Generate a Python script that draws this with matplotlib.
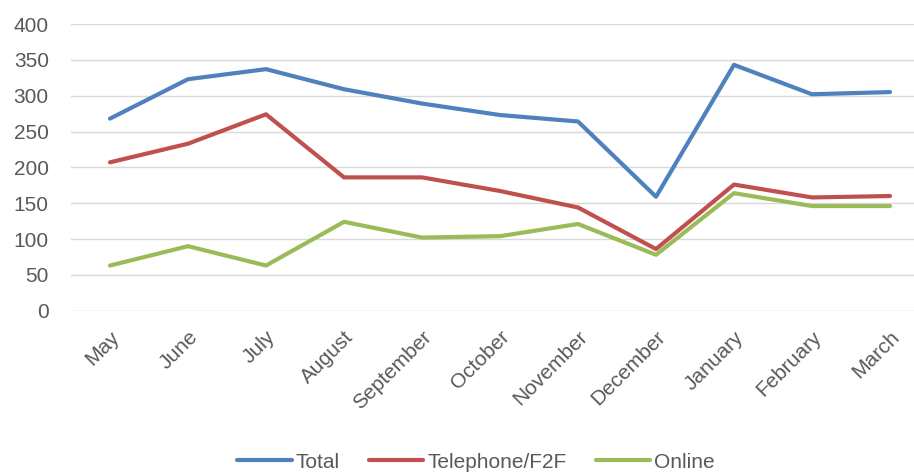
import matplotlib
matplotlib.use("Agg")
import matplotlib.pyplot as plt

months = ["May", "June", "July", "August", "September", "October", "November",
          "December", "January", "February", "March"]
total = [268, 323, 337, 309, 289, 273, 264, 159, 343, 302, 305]
telephone = [207, 233, 274, 186, 186, 167, 144, 86, 176, 158, 160]
online = [63, 90, 63, 124, 102, 104, 121, 78, 164, 146, 146]
yticks = [0, 50, 100, 150, 200, 250, 300, 350, 400]

plt.rcParams['font.family'] = ['Liberation Sans', 'DejaVu Sans']

fig = plt.figure(figsize=(9.14, 4.74), dpi=100)
ax = fig.add_axes([71/914, (474-310.7)/474, 858/914, (310.7-24)/474])

x = list(range(len(months)))
ax.plot(x, total, color='#4F81BD', lw=3, label='Total', solid_capstyle='round')
ax.plot(x, telephone, color='#C0504D', lw=3, label='Telephone/F2F', solid_capstyle='round')
ax.plot(x, online, color='#9BBB59', lw=3, label='Online', solid_capstyle='round')

ax.set_xlim(-0.5, len(months) - 0.5)
ax.set_ylim(0, 400)
ax.set_yticks(yticks)
ax.set_yticklabels([str(v) for v in yticks])
ax.set_xticks(x)
ax.set_xticklabels(months, rotation=45, ha='right', rotation_mode='anchor')
ax.tick_params(axis='both', length=0, labelsize=15, colors='#595959')
ax.tick_params(axis='y', pad=16)
ax.tick_params(axis='x', pad=12)
ax.grid(axis='y', color='#D9D9D9', lw=1)
ax.set_axisbelow(True)
for s in ax.spines.values():
    s.set_visible(False)

leg = fig.legend(loc='center', bbox_to_anchor=(476/914, 1 - 462/474), ncol=3, frameon=False,
                 fontsize=15, handlelength=2.6, handletextpad=0.2, columnspacing=1.4)
for t in leg.get_texts():
    t.set_color('#595959')

fig.savefig('out.png', dpi=100)
